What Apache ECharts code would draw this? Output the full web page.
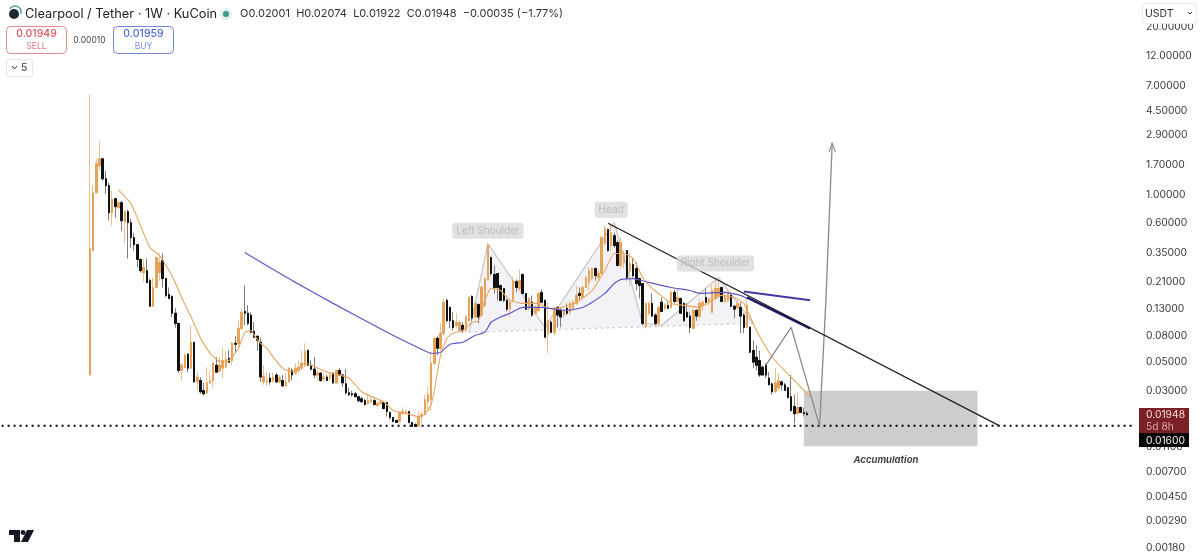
<!DOCTYPE html>
<html>
<head>
<meta charset="utf-8">
<script src="https://cdn.jsdelivr.net/npm/echarts@6/dist/echarts.min.js"></script>
<style>
html,body{margin:0;padding:0;background:#fff}
#chart{width:1200px;height:560px}
</style>
</head>
<body>
<div id="chart"></div>
<script>
// weekly candles
var firstWeek = 28;
var opens = [
  .0397,.368,1.036,1.68,1.90,1.33,1.175,.725,.931,.793,
  .867,.617,.738,.606,.464,.409,.314,.248,.257,.215,
  .136,.19,.248,.308,.223,.168,.162,.12,.1,.0431,
  .0457,.0576,.0449,.0713,.0351,.036,.03,.0289,.0345,.036,
  .0473,.0426,.0449,.0457,.0536,.0515,.07,.07,.0915,.124,
  .12,.116,.0868,.0794,.0713,.0351,.0351,.0376,.036,.0397,
  .0351,.036,.0327,.0351,.0431,.0411,.0431,.0449,.0473,.0616,
  .0473,.0441,.0397,.0411,.037,.0383,.0376,.0411,.0345,.0431,
  .0397,.0339,.0289,.0284,.0284,.0269,.026,.0251,.0238,.0246,
  .0251,.023,.0238,.0242,.0242,.0203,.0186,.0176,.0173,.0199,
  .0199,.0207,.017,.0164,.016,.0189,.0196,.0246,.0255,.049,
  .0766,.0641,.0838,.151,.133,.105,.0965,.088,.0965,.088,
  .105,.162,.112,.14,.116,.138,.219,.325,.24,.244,
  .197,.187,.151,.129,.151,.211,.187,.24,.171,.131,
  .146,.12,.126,.174,.151,.0838,.102,.0853,.133,.126,
  .116,.131,.122,.131,.143,.171,.159,.19,.208,.223,
  .267,.227,.244,.417,.535,.402,.48,.424,.282,.297,
  .368,.257,.287,.267,.223,.204,.0948,.12,.143,.116,
  .1,.146,.131,.138,.133,.174,.148,.156,.143,.122,
  .114,.0915,.126,.114,.138,.159,.146,.122,.156,.165,
  .19,.148,.151,.165,.136,.133,.133,.116,.0931,.0931,
  .0616,.0546,.0515,.0457,.0473,.0376,.0339,.0294,.0316,.0351,
  .0333,.0316,.0269,.0226,.0199,.0222,.0203,.02001
];
var closes = [
  .381,1.036,1.74,1.90,1.33,1.175,.725,.915,.807,.867,
  .628,.738,.606,.464,.409,.314,.257,.272,.208,.136,
  .19,.325,.297,.223,.165,.156,.12,.1,.0431,.0473,
  .0566,.0449,.0713,.0351,.0383,.0294,.0284,.0345,.036,.049,
  .0418,.0473,.0515,.0527,.05,.07,.0688,.0915,.122,.12,
  .1,.0853,.078,.0737,.0383,.039,.036,.0351,.0383,.0351,
  .0376,.0327,.0351,.0449,.0397,.0449,.0457,.049,.0607,.0473,
  .0441,.0397,.0411,.036,.0383,.036,.0397,.0345,.0431,.0397,
  .0345,.0289,.0279,.0279,.0269,.0251,.0246,.0234,.0251,.0255,
  .0234,.0238,.0246,.0218,.0207,.0186,.0173,.017,.0203,.0207,
  .0207,.017,.0158,.0158,.0189,.0196,.0255,.0279,.049,.0766,
  .0641,.0838,.146,.105,.105,.0931,.102,.102,.088,.112,
  .159,.11,.143,.112,.19,.223,.402,.244,.19,.19,
  .151,.151,.129,.146,.215,.19,.215,.171,.129,.156,
  .116,.133,.171,.146,.078,.105,.0853,.131,.116,.112,
  .126,.12,.143,.146,.165,.165,.19,.227,.257,.267,
  .235,.244,.464,.544,.368,.507,.402,.282,.424,.337,
  .227,.292,.235,.204,.197,.1,.143,.143,.114,.1,
  .133,.124,.138,.131,.174,.148,.159,.12,.105,.112,
  .0931,.126,.114,.143,.146,.146,.156,.18,.187,.187,
  .148,.162,.174,.136,.129,.143,.114,.0931,.138,.0597,
  .05,.0473,.0397,.0397,.0397,.0333,.0294,.0345,.036,.0333,
  .0301,.0265,.021,.0199,.0222,.0203,.0199,.01948
];
var lows = [
  .0397,.368,1.018,1.535,1.284,1.018,.628,.574,.663,.779,
  .525,.417,.319,.388,.368,.272,.248,.211,.204,.136,
  .136,.187,.215,.19,.159,.156,.112,.0931,.0411,.0357,
  .0449,.0418,.0449,.0345,.0301,.0284,.0274,.0279,.0339,.0316,
  .0411,.0411,.0376,.0449,.049,.0473,.0597,.0652,.088,.0965,
  .0965,.0838,.078,.0616,.0351,.0333,.0327,.0333,.0345,.0345,
  .0345,.0321,.0321,.0345,.036,.0397,.0411,.0431,.0457,.0465,
  .0431,.0376,.036,.0351,.0351,.036,.036,.0339,.0339,.039,
  .0321,.0279,.0274,.0269,.0269,.0242,.0242,.023,.0234,.0238,
  .023,.0226,.0234,.0214,.0189,.0179,.017,.017,.017,.0196,
  .0196,.0167,.0158,.0158,.0158,.0164,.0193,.021,.0207,.0473,
  .0566,.0616,.0808,.102,.0915,.088,.0915,.0853,.0838,.0853,
  .102,.105,.11,.1,.112,.133,.215,.235,.171,.151,
  .151,.146,.124,.11,.146,.174,.18,.168,.126,.126,
  .112,.116,.122,.143,.0766,.0586,.0838,.0808,.0931,.0931,
  .11,.116,.116,.126,.138,.151,.156,.187,.18,.215,
  .215,.215,.235,.402,.361,.368,.388,.277,.267,.267,
  .215,.197,.227,.18,.156,.0965,.0915,.116,.112,.0965,
  .0948,.122,.126,.129,.131,.143,.143,.12,.102,.11,
  .0838,.0899,.105,.11,.126,.143,.138,.12,.151,.159,
  .146,.143,.146,.133,.11,.129,.0838,.0838,.0915,.0586,
  .0449,.0431,.0383,.039,.0376,.0333,.0279,.0289,.0301,.0301,
  .03,.026,.0207,.0167,.0196,.0203,.0189,.01922
];
var highs = [
  5.97,1.175,1.90,2.62,1.90,1.535,1.24,1.074,.931,.882,
  .898,.751,.765,.651,.507,.409,.319,.319,.319,.223,
  .227,.331,.349,.349,.223,.19,.165,.131,.1,.049,
  .0586,.0586,.0965,.0713,.0418,.0383,.0345,.0457,.0431,.05,
  .0546,.0546,.0641,.0616,.0616,.0713,.0794,.105,.131,.197,
  .138,.122,.102,.0808,.0766,.0473,.0411,.0411,.0418,.0411,
  .0397,.0397,.0411,.0457,.0449,.049,.0515,.0616,.07,.063,
  .0515,.0546,.0431,.0418,.0411,.0397,.0411,.0418,.0441,.0449,
  .0404,.0441,.0316,.03,.0294,.0274,.0269,.026,.0279,.0265,
  .026,.0246,.0255,.0246,.0246,.0207,.0186,.0179,.0207,.0222,
  .0214,.0207,.017,.0167,.0207,.0207,.0279,.0321,.0597,.078,
  .0794,.1,.156,.156,.136,.122,.12,.105,.102,.116,
  .162,.165,.146,.143,.197,.227,.424,.331,.282,.244,
  .2,.187,.156,.151,.231,.219,.262,.244,.171,.159,
  .165,.138,.174,.183,.153,.146,.105,.133,.136,.131,
  .131,.143,.151,.151,.197,.19,.197,.235,.272,.272,
  .272,.257,.48,.574,.544,.606,.507,.44,.464,.368,
  .368,.355,.319,.297,.227,.204,.146,.146,.171,.12,
  .138,.159,.143,.146,.183,.183,.187,.159,.146,.143,
  .122,.131,.129,.156,.151,.187,.159,.197,.215,.208,
  .19,.18,.18,.168,.138,.151,.146,.12,.159,.0948,
  .0737,.0676,.0616,.0473,.049,.0418,.0345,.0449,.0411,.036,
  .0345,.0321,.0397,.0279,.0294,.0226,.0222,.02074
];

// orange moving average
var orangeWeek = [37,41,44,47,50,54,57,60,63,66,69,72,75,77,79,80,82,84,86,89,91,93,96,98,103,107,110,114,118,121,124,127,132,134,136,137,139,141,143,146,149,151,153,155,158,161,165,170,173,176,182,187,191,194,197,200,203,206,210,212,216,221,224,228,232,235,239,244,251,256];
var orangePrice = [1.09,.851,.574,.388,.337,.235,.159,.112,.0766,.0586,.0508,.0515,.0641,.0853,.088,.0808,.07,.0641,.0546,.0449,.0426,.0431,.049,.0473,.0418,.0397,.0376,.0294,.0265,.0246,.021,.0203,.0189,.0196,.0234,.0301,.0566,.0766,.0838,.088,.102,.105,.151,.187,.18,.151,.143,.143,.131,.131,.146,.18,.257,.349,.349,.319,.227,.187,.156,.143,.138,.133,.146,.165,.159,.143,.088,.0546,.036,.0269];

// blue moving average and its two drawn continuations
var blueWeek = [77,92,105,121,129,133,136,139,142,146,150,153,155,158,161,165,171,175,179,184,187,191,194,196,200,205,212,218,221,229,234,236];
var bluePrice = [.355,.215,.143,.088,.07,.063,.0586,.0597,.0688,.0713,.0808,.0853,.102,.112,.12,.133,.133,.129,.126,.133,.146,.171,.204,.219,.223,.208,.19,.18,.171,.174,.165,.156];
var purpleWeek = [235,256], purplePrice = [.177,.151];
var navyWeek = [236,256], navyPrice = [.159,.0915];

// head and shoulders
var hsWeek = [148,154,172,194,203,209,227,238];
var hsPrice = [.0853,.417,.0931,.606,.1,.0965,.227,.1];

// projection drawing
var pathWeek = [242,250,259,261,263];
var pathPrice = [.0473,.0931,.016,.151,2.53];
var headWeek = [262,263,264];
var headPrice = [2.15,2.53,2.15];
var trendWeek = [192,316];
var trendPrice = [.6,.016];

var accumWeek = [254,309];
var accumPrice = [.03,.0111];
var supportWeek = [0,359];
var supportPrice = [.016,.016];

var tickValues = [20,12,7,4.5,2.9,1.7,1,.6,.35,.21,.13,.08,.05,.03,.011,.007,.0045,.0029,.0018];

var noteText = ['Left Shoulder','Head','Right Shoulder'];
var noteWeek = [154,193,226];
var notePrice = [.525,.765,.292];

var weeks = [];
for (var i = 0; i < 360; i++) weeks.push('W' + i);

var pairs = function(xs, ys){
  return xs.map(function(x, k){ return [x, ys[k]]; });
}
var thinLine = function(xs, ys, color, width, extra){
  return Object.assign({
    type: 'line',
    data: pairs(xs, ys),
    symbol: 'none',
    silent: true,
    lineStyle: {color: color, width: width},
    z: 4
  }, extra || {});
}

var wickData = opens.map(function(o, k){
  return [firstWeek + k, o, closes[k], lows[k], highs[k]];
});
var bodyData = opens.map(function(o, k){
  return [firstWeek + k, o, closes[k], Math.min(o, closes[k]), Math.max(o, closes[k])];
});

var noteLabel = {
  show: true,
  position: 'inside',
  fontFamily: 'Inter',
  fontSize: 10,
  color: '#b4b4b4',
  backgroundColor: '#dadada',
  padding: [3, 4],
  borderRadius: 3
};

var option = {
  animation: false,
  grid: {left: -1, right: 63, top: 1, bottom: -1},
  xAxis: {
    type: 'category',
    data: weeks,
    boundaryGap: true,
    show: false
  },
  yAxis: {
    type: 'log',
    logBase: 10,
    min: 0.00145,
    max: 32,
    position: 'right',
    splitLine: {show: false},
    axisLine: {show: false},
    axisTick: {show: false},
    axisLabel: {
      customValues: tickValues,
      hideOverlap: false,
      margin: 9,
      fontFamily: 'Inter',
      fontSize: 10.3,
      color: '#3a3a3a',
      formatter: function(v){ return (+v).toFixed(5); }
    }
  },
  series: [
    {
      type: 'line', data: [], silent: true, z: 1,
      markArea: {
        silent: true,
        itemStyle: {color: '#cecece'},
        data: [[{coord: [accumWeek[0], accumPrice[0]]}, {coord: [accumWeek[1], accumPrice[1]]}]]
      }
    },
    thinLine(supportWeek, supportPrice, '#000', 2, {z: 2, lineStyle: {color: '#000', width: 2, type: [2, 4]}}),
    {
      type: 'custom',
      silent: true,
      z: 1,
      data: [[hsWeek[0], hsPrice[0]]],
      encode: {x: 0, y: 1},
      renderItem: function(params, api){
        return {
          type: 'polygon',
          shape: {points: hsWeek.map(function(w, k){ return api.coord([w, hsPrice[k]]); })},
          style: {fill: '#f3f3f7'}
        };
      }
    },
    thinLine(hsWeek, hsPrice, '#cbcbcb', 1.4, {z: 2}),
    thinLine([hsWeek[0], hsWeek[hsWeek.length-1]], [hsPrice[0], hsPrice[hsPrice.length-1]], '#c4c4c4', 1.2, {z: 2, lineStyle: {color: '#c4c4c4', width: 1.2, type: [2, 4]}}),
    {
      type: 'candlestick',
      data: wickData,
      encode: {x: 0, y: [1, 2, 3, 4]},
      barWidth: 2,
      silent: true,
      z: 3,
      itemStyle: {color: '#ecbf8e', color0: '#7d7d7d', borderColor: '#ecbf8e', borderColor0: '#7d7d7d', borderWidth: 1}
    },
    {
      type: 'candlestick',
      data: bodyData,
      encode: {x: 0, y: [1, 2, 3, 4]},
      barWidth: 2,
      silent: true,
      z: 3,
      itemStyle: {color: '#e8a35a', color0: '#111111', borderColor: '#e8a35a', borderColor0: '#111111', borderWidth: 1}
    },
    thinLine(orangeWeek, orangePrice, '#e8a661', 1.1, {smooth: 0.15}),
    thinLine(blueWeek, bluePrice, '#6257c9', 1.2, {smooth: 0.15}),
    thinLine(purpleWeek, purplePrice, '#47389f', 2),
    thinLine(navyWeek, navyPrice, '#16166c', 2.4),
    thinLine(trendWeek, trendPrice, '#222222', 1.3, {z: 5}),
    thinLine(pathWeek, pathPrice, '#8a8a8a', 1.3),
    thinLine(headWeek, headPrice, '#8a8a8a', 1.1),
    {
      type: 'scatter',
      silent: true,
      z: 5,
      symbolSize: 1,
      itemStyle: {color: 'transparent'},
      data: noteText.map(function(t, k){
        return {value: [noteWeek[k], notePrice[k]], label: Object.assign({formatter: t}, noteLabel)};
      })
    },
    {
      type: 'scatter',
      silent: true,
      z: 5,
      symbolSize: 1,
      itemStyle: {color: 'transparent'},
      data: [{
        value: [280, .00864],
        label: {show: true, position: 'inside', formatter: 'Accumulation', fontFamily: 'Inter', fontSize: 9.5, fontStyle: 'italic', fontWeight: 'bold', color: '#111'}
      }]
    }
  ],
  graphic: [
    {type: 'circle', shape: {cx: 14, cy: 14, r: 5}, style: {fill: '#1c2a33'}},
    {type: 'arc', shape: {cx: 15, cy: 12, r: 6, startAngle: -2.6, endAngle: 0.3}, style: {stroke: '#55a6a6', lineWidth: 1.5, fill: null}},
    {type: 'text', x: 25, y: 14, style: {text: 'Clearpool / Tether · 1W · KuCoin', font: '12.8px Inter', fill: '#222', verticalAlign: 'middle'}},
    {type: 'circle', shape: {cx: 226, cy: 14, r: 6}, style: {fill: '#e3f1ee'}},
    {type: 'circle', shape: {cx: 226, cy: 14, r: 3}, style: {fill: '#3f9a8b'}},
    {type: 'text', x: 240, y: 14, style: {text: 'O0.02001  H0.02074  L0.01922  C0.01948  −0.00035 (−1.77%)', font: '11px Inter', fill: '#333', verticalAlign: 'middle'}},

    {type: 'rect', shape: {x: 6.5, y: 26.5, width: 60, height: 27, r: 4}, style: {fill: '#fff', stroke: '#e58a8a', lineWidth: 1}},
    {type: 'text', x: 36.5, y: 34, style: {text: '0.01949', font: '500 10.5px Inter', fill: '#d9575d', align: 'center', verticalAlign: 'middle'}},
    {type: 'text', x: 36.5, y: 46, style: {text: 'SELL', font: '8.5px Inter', fill: '#e0797d', align: 'center', verticalAlign: 'middle'}},
    {type: 'text', x: 89.5, y: 40, style: {text: '0.00010', font: '8.5px Inter', fill: '#444', align: 'center', verticalAlign: 'middle'}},
    {type: 'rect', shape: {x: 113.5, y: 26.5, width: 60, height: 27, r: 4}, style: {fill: '#fff', stroke: '#6f86e0', lineWidth: 1}},
    {type: 'text', x: 143.5, y: 34, style: {text: '0.01959', font: '500 10.5px Inter', fill: '#4e6ad8', align: 'center', verticalAlign: 'middle'}},
    {type: 'text', x: 143.5, y: 46, style: {text: 'BUY', font: '8.5px Inter', fill: '#7a90e4', align: 'center', verticalAlign: 'middle'}},

    {type: 'rect', shape: {x: 6.5, y: 59.5, width: 26, height: 17, r: 2}, style: {fill: '#fff', stroke: '#e6e6e6', lineWidth: 1}},
    {type: 'polyline', shape: {points: [[12, 66], [14.5, 69], [17, 66]]}, style: {stroke: '#333', lineWidth: 1, fill: null}},
    {type: 'text', x: 21, y: 68, style: {text: '5', font: '10.5px Inter', fill: '#333', verticalAlign: 'middle'}},

    {type: 'rect', z: 10, shape: {x: 1142.5, y: 3.5, width: 54, height: 20, r: 3}, style: {fill: '#fff', stroke: '#ececec', lineWidth: 1}},
    {type: 'text', z: 11, x: 1145, y: 13.5, style: {text: 'USDT', font: '10.5px Inter', fill: '#333', verticalAlign: 'middle'}},
    {type: 'polyline', z: 11, shape: {points: [[1188, 12], [1190, 14], [1192, 12]]}, style: {stroke: '#333', lineWidth: 1, fill: null}},

    {type: 'rect', z: 10, shape: {x: 1139, y: 408, width: 50, height: 25}, style: {fill: '#7b2024'}},
    {type: 'text', z: 11, x: 1146, y: 415, style: {text: '0.01948', font: '10.3px Inter', fill: '#f3dcdc', verticalAlign: 'middle'}},
    {type: 'text', z: 11, x: 1146, y: 426.5, style: {text: '5d 8h', font: '10.3px Inter', fill: '#d8a9ab', verticalAlign: 'middle'}},
    {type: 'rect', z: 10, shape: {x: 1139, y: 433, width: 50, height: 14}, style: {fill: '#050505'}},
    {type: 'text', z: 11, x: 1146, y: 440.5, style: {text: '0.01600', font: '10.3px Inter', fill: '#f2f2f2', verticalAlign: 'middle'}},

    {type: 'polygon', shape: {points: [[9, 530], [20, 530], [20, 542], [14, 542], [14, 535], [9, 535]]}, style: {fill: '#131722'}},
    {type: 'circle', shape: {cx: 23, cy: 532.5, r: 2.4}, style: {fill: '#131722'}},
    {type: 'polygon', shape: {points: [[27, 530], [34, 530], [28, 542], [21, 542]]}, style: {fill: '#131722'}}
  ]
};

var myChart = echarts.init(document.getElementById('chart'), null, {renderer: 'canvas'});
myChart.setOption(option);
</script>
</body>
</html>
